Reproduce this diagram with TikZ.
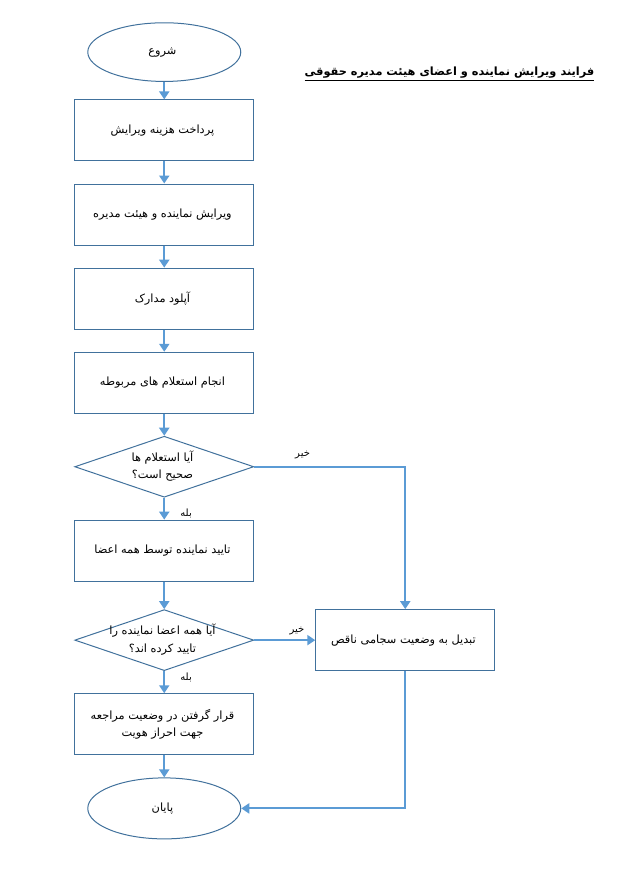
\documentclass[tikz,border=0pt]{standalone}
\usepackage{fontspec}
\newfontfamily\arabicfont[Script=Arabic]{DejaVu Sans}
\TeXXeTstate=1
\usepackage{tikz}
\usetikzlibrary{matrix}
\usetikzlibrary{arrows.meta}
\usetikzlibrary{shapes.geometric}
\definecolor{flowblue}{HTML}{5B9BD5}
\definecolor{edgeblue}{HTML}{41719C}
\newcommand{\fatext}[1]{{\arabicfont\beginR #1\endR}}
\newcommand{\twolines}[2]{\makebox[0pt]{\arabicfont\begin{tabular}{@{}c@{}}#1\\#2\end{tabular}}}

\begin{document}
\begin{tikzpicture}[x=0.75pt,y=-0.75pt,>={Triangle[length=6pt,width=7.5pt]},->,
    startstop/.style={ellipse,minimum width=114.75pt,minimum height=44pt},
    query/.style={diamond,aspect=2.9}]
    \useasboundingbox (0,0) rectangle (628,882);
    \matrix[matrix of nodes,matrix anchor=north west,inner sep=0pt,column sep=45.75pt,row
    sep=16.6pt,cells={nodes={rectangle,draw=edgeblue,line width=0.75pt,minimum width=134.25pt, minimum height=45.75pt, align=center, anchor=center, inner sep=0pt, font=\arabicfont\fontsize{8.5}{13}\selectfont}}] (m) at (74,22) {
      |[startstop](s)| \fatext{شروع} & \\[-3.5pt]
      |(b_1)| \fatext{پرداخت هزینه ویرایش} & \\
      |(b_2)| \fatext{ویرایش نماینده و هیئت مدیره} & \\
      |(b_3)| \fatext{آپلود مدارک} & \\
      |(b_4)| \fatext{انجام استعلام های مربوطه} & \\
      |[query](q_1)| \twolines{\beginR آیا استعلام ها\endR}{\beginR صحیح است؟\endR} & \\
      |(b_5)| \fatext{تایید نماینده توسط همه اعضا} & \\[4pt]
      |[query](q_2)| \twolines{\beginR آیا همه اعضا نماینده را\endR}{\beginR تایید کرده اند؟\endR} & |(n)| \fatext{تبدیل به وضعیت سجامی ناقص} \\
      |(b_6)| \twolines{\beginR قرار گرفتن در وضعیت مراجعه\endR}{\beginR جهت احراز هویت\endR} & \\
      |[startstop,minimum height=45.75pt](e)| \fatext{پایان} & \\};
    \node[font=\arabicfont\bfseries\fontsize{8.5}{11}\selectfont] (title) at (449.5,74) {\underline{\fatext{فرایند ویرایش نماینده و اعضای هیئت مدیره حقوقی}}};
      \begin{scope}[every node/.style={font=\arabicfont\fontsize{7.5}{9}\selectfont},link/.style={draw=flowblue,line width=1.5pt}]
          \draw[link] (s) -- (b_1);
          \draw[link] (b_1) -- (b_2);
          \draw[link] (b_2) -- (b_3);
          \draw[link] (b_3) -- (b_4);
          \draw[link] (b_4) -- (q_1);
          \draw[link] (q_1) -- node [right=8pt,pos=0.7] {\fatext{بله}} (b_5);
          \draw[link] (q_1) -| node [above=2pt,pos=0.16] {\fatext{خیر}} (n);
          \draw[link] (b_5) -- (q_2);
          \draw[link] (q_2) -- node [above,pos=0.7] {\fatext{خیر}} (n);
          \draw[link] (q_2) -- node [right=8pt,pos=0.3] {\fatext{بله}} (b_6);
          \draw[link] (b_6) -- (e);
          \draw[link] (n) |- (e);
      \end{scope}
\end{tikzpicture}
\end{document}
